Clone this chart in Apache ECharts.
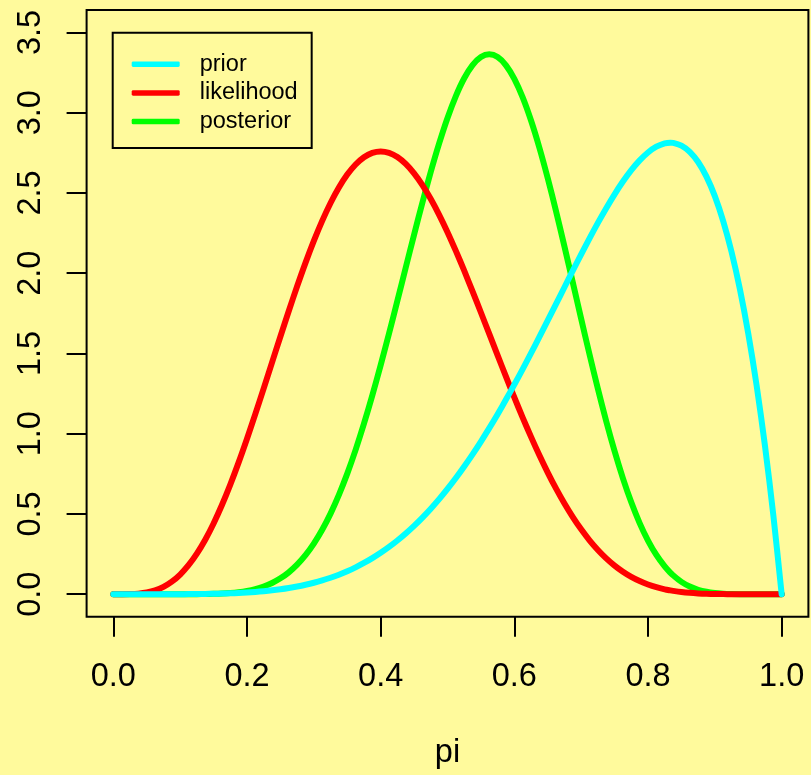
<!DOCTYPE html>
<html>
<head>
<meta charset="utf-8">
<script src="https://cdn.jsdelivr.net/npm/echarts@6/dist/echarts.min.js"></script>
<style>
html,body{margin:0;padding:0;background:#FFFA9C;}
#chart{width:811px;height:775px;}
</style>
</head>
<body>
<div id="chart"></div>
<script>
var piValues = [0, 0.0125, 0.025, 0.0375, 0.05, 0.0625, 0.075, 0.0875, 0.1, 0.1125, 0.125, 0.1375, 0.15, 0.1625, 0.175, 0.1875, 0.2, 0.2125, 0.225, 0.2375, 0.25, 0.2625, 0.275, 0.2875, 0.3, 0.3125, 0.325, 0.3375, 0.35, 0.3625, 0.375, 0.3875, 0.4, 0.4125, 0.425, 0.4375, 0.45, 0.4625, 0.475, 0.4875, 0.5, 0.5125, 0.525, 0.5375, 0.55, 0.5625, 0.575, 0.5875, 0.6, 0.6125, 0.625, 0.6375, 0.65, 0.6625, 0.675, 0.6875, 0.7, 0.7125, 0.725, 0.7375, 0.75, 0.7625, 0.775, 0.7875, 0.8, 0.8125, 0.825, 0.8333, 0.8375, 0.85, 0.8625, 0.875, 0.8875, 0.9, 0.9125, 0.925, 0.9375, 0.95, 0.9625, 0.975, 0.9875, 1.0];
var prior = [0, 0, 0, 0, 0, 0, 0.0001, 0.0002, 0.0004, 0.0007, 0.0011, 0.0018, 0.0027, 0.0040, 0.0057, 0.0079, 0.0108, 0.0143, 0.0188, 0.0242, 0.0308, 0.0386, 0.0479, 0.0588, 0.0714, 0.0861, 0.1028, 0.1218, 0.1434, 0.1676, 0.1947, 0.2248, 0.2580, 0.2947, 0.3349, 0.3787, 0.4263, 0.4777, 0.5332, 0.5927, 0.6563, 0.7239, 0.7957, 0.8715, 0.9512, 1.0348, 1.1220, 1.2126, 1.3064, 1.4030, 1.5020, 1.6031, 1.7056, 1.8090, 1.9127, 2.0158, 2.1177, 2.2172, 2.3135, 2.4054, 2.4917, 2.5710, 2.6420, 2.7030, 2.7525, 2.7885, 2.8090, 2.8135, 2.8121, 2.7953, 2.7563, 2.6928, 2.6016, 2.4801, 2.3250, 2.1331, 1.9010, 1.6249, 1.3010, 0.9252, 0.4930, 0];
var likelihood = [0, 0.0001, 0.0008, 0.0036, 0.0106, 0.0239, 0.0458, 0.0782, 0.1228, 0.1808, 0.2531, 0.3399, 0.4411, 0.5558, 0.6831, 0.8214, 0.9689, 1.1234, 1.2828, 1.4444, 1.6060, 1.7648, 1.9185, 2.0647, 2.2013, 2.3261, 2.4377, 2.5340, 2.6144, 2.6775, 2.7228, 2.7500, 2.7589, 2.7501, 2.7238, 2.6807, 2.6221, 2.5487, 2.4623, 2.3640, 2.2559, 2.1390, 2.0157, 1.8871, 1.7552, 1.6217, 1.4881, 1.3558, 1.2262, 1.1007, 0.9802, 0.8657, 0.7580, 0.6576, 0.5651, 0.4806, 0.4043, 0.3362, 0.2760, 0.2236, 0.1784, 0.1401, 0.1081, 0.0818, 0.0606, 0.0437, 0.0307, 0.0239, 0.0209, 0.0137, 0.0086, 0.0052, 0.0029, 0.0015, 0.0007, 0.0003, 0.0001, 0, 0, 0, 0, 0];
var posterior = [0, 0, 0, 0, 0, 0, 0, 0, 0.0001, 0.0002, 0.0006, 0.0012, 0.0024, 0.0044, 0.0078, 0.0130, 0.0209, 0.0323, 0.0483, 0.0701, 0.0990, 0.1366, 0.1842, 0.2433, 0.3153, 0.4013, 0.5023, 0.6189, 0.7514, 0.8995, 1.0625, 1.2389, 1.4272, 1.6246, 1.8283, 2.0348, 2.2404, 2.4407, 2.6318, 2.8085, 2.9675, 3.1039, 3.2149, 3.2965, 3.3468, 3.3637, 3.3467, 3.2954, 3.2111, 3.0954, 2.9512, 2.7820, 2.5916, 2.3848, 2.1666, 1.9420, 1.7164, 1.4941, 1.2801, 1.0780, 0.8913, 0.7222, 0.5727, 0.4432, 0.3341, 0.2445, 0.1731, 0.1346, 0.1180, 0.0770, 0.0477, 0.0279, 0.0152, 0.0075, 0.0034, 0.0013, 0.0004, 0.0001, 0, 0, 0, 0];
var xTicks = [0, 0.2, 0.4, 0.6, 0.8, 1.0];
var yTicks = [0, 0.5, 1.0, 1.5, 2.0, 2.5, 3.0, 3.5];
var seriesNames = ['prior', 'likelihood', 'posterior'];
var seriesColors = ['#00FFFF', '#FF0000', '#00FF00'];

function pairs(ys) { return piValues.map(function (x, i) { return [x, ys[i]]; }); }

var FONT = "'Liberation Sans', Arial, Helvetica, sans-serif";
var chart = echarts.init(document.getElementById('chart'), null, {renderer: 'canvas'});
function mkSeries(name, ys, color) {
  return {
    name: name, type: 'line', data: pairs(ys), smooth: 0.3, symbol: 'none',
    lineStyle: {color: color, width: 6, cap: 'round', join: 'round'},
    itemStyle: {color: color}, emphasis: {disabled: true}
  };
}
chart.setOption({
  animation: false,
  backgroundColor: '#FFFA9C',
  textStyle: {fontFamily: FONT},
  grid: {left: 86.6, right: 2.6, top: 10, bottom: 158.3, show: true, borderColor: '#000', borderWidth: 2, backgroundColor: 'transparent'},
  legend: {
    orient: 'vertical', left: 112.7, top: 32.7,
    data: seriesNames,
    icon: 'roundRect', itemWidth: 48, itemHeight: 5.5, itemGap: 4.7,
    padding: [19.5, 14, 14.5, 19],
    borderColor: '#000', borderWidth: 2,
    textStyle: {fontSize: 23.5, color: '#000', fontFamily: FONT, padding: [0, 0, 0, 15]}
  },
  xAxis: {
    type: 'value', min: -0.04, max: 1.04,
    name: 'pi', nameLocation: 'middle', nameGap: 120,
    nameTextStyle: {fontSize: 32.5, color: '#000', fontFamily: FONT},
    axisLine: {show: false, onZero: false},
    splitLine: {show: false},
    axisTick: {show: true, customValues: xTicks, length: 20, lineStyle: {color: '#000', width: 2}},
    axisLabel: {customValues: xTicks, fontSize: 32.5, color: '#000', margin: 44, fontFamily: FONT,
      formatter: function (v) { return v.toFixed(1); }}
  },
  yAxis: {
    type: 'value', min: -0.14, max: 3.64,
    axisLine: {show: false, onZero: false},
    splitLine: {show: false},
    axisTick: {show: true, customValues: yTicks, length: 20, lineStyle: {color: '#000', width: 2}},
    axisLabel: {customValues: yTicks, fontSize: 32.5, color: '#000', margin: 39, rotate: 90, fontFamily: FONT,
      formatter: function (v) { return v.toFixed(1); }}
  },
  series: [
    mkSeries(seriesNames[2], posterior, seriesColors[2]),
    mkSeries(seriesNames[1], likelihood, seriesColors[1]),
    mkSeries(seriesNames[0], prior, seriesColors[0])
  ]
});
</script>
</body>
</html>
